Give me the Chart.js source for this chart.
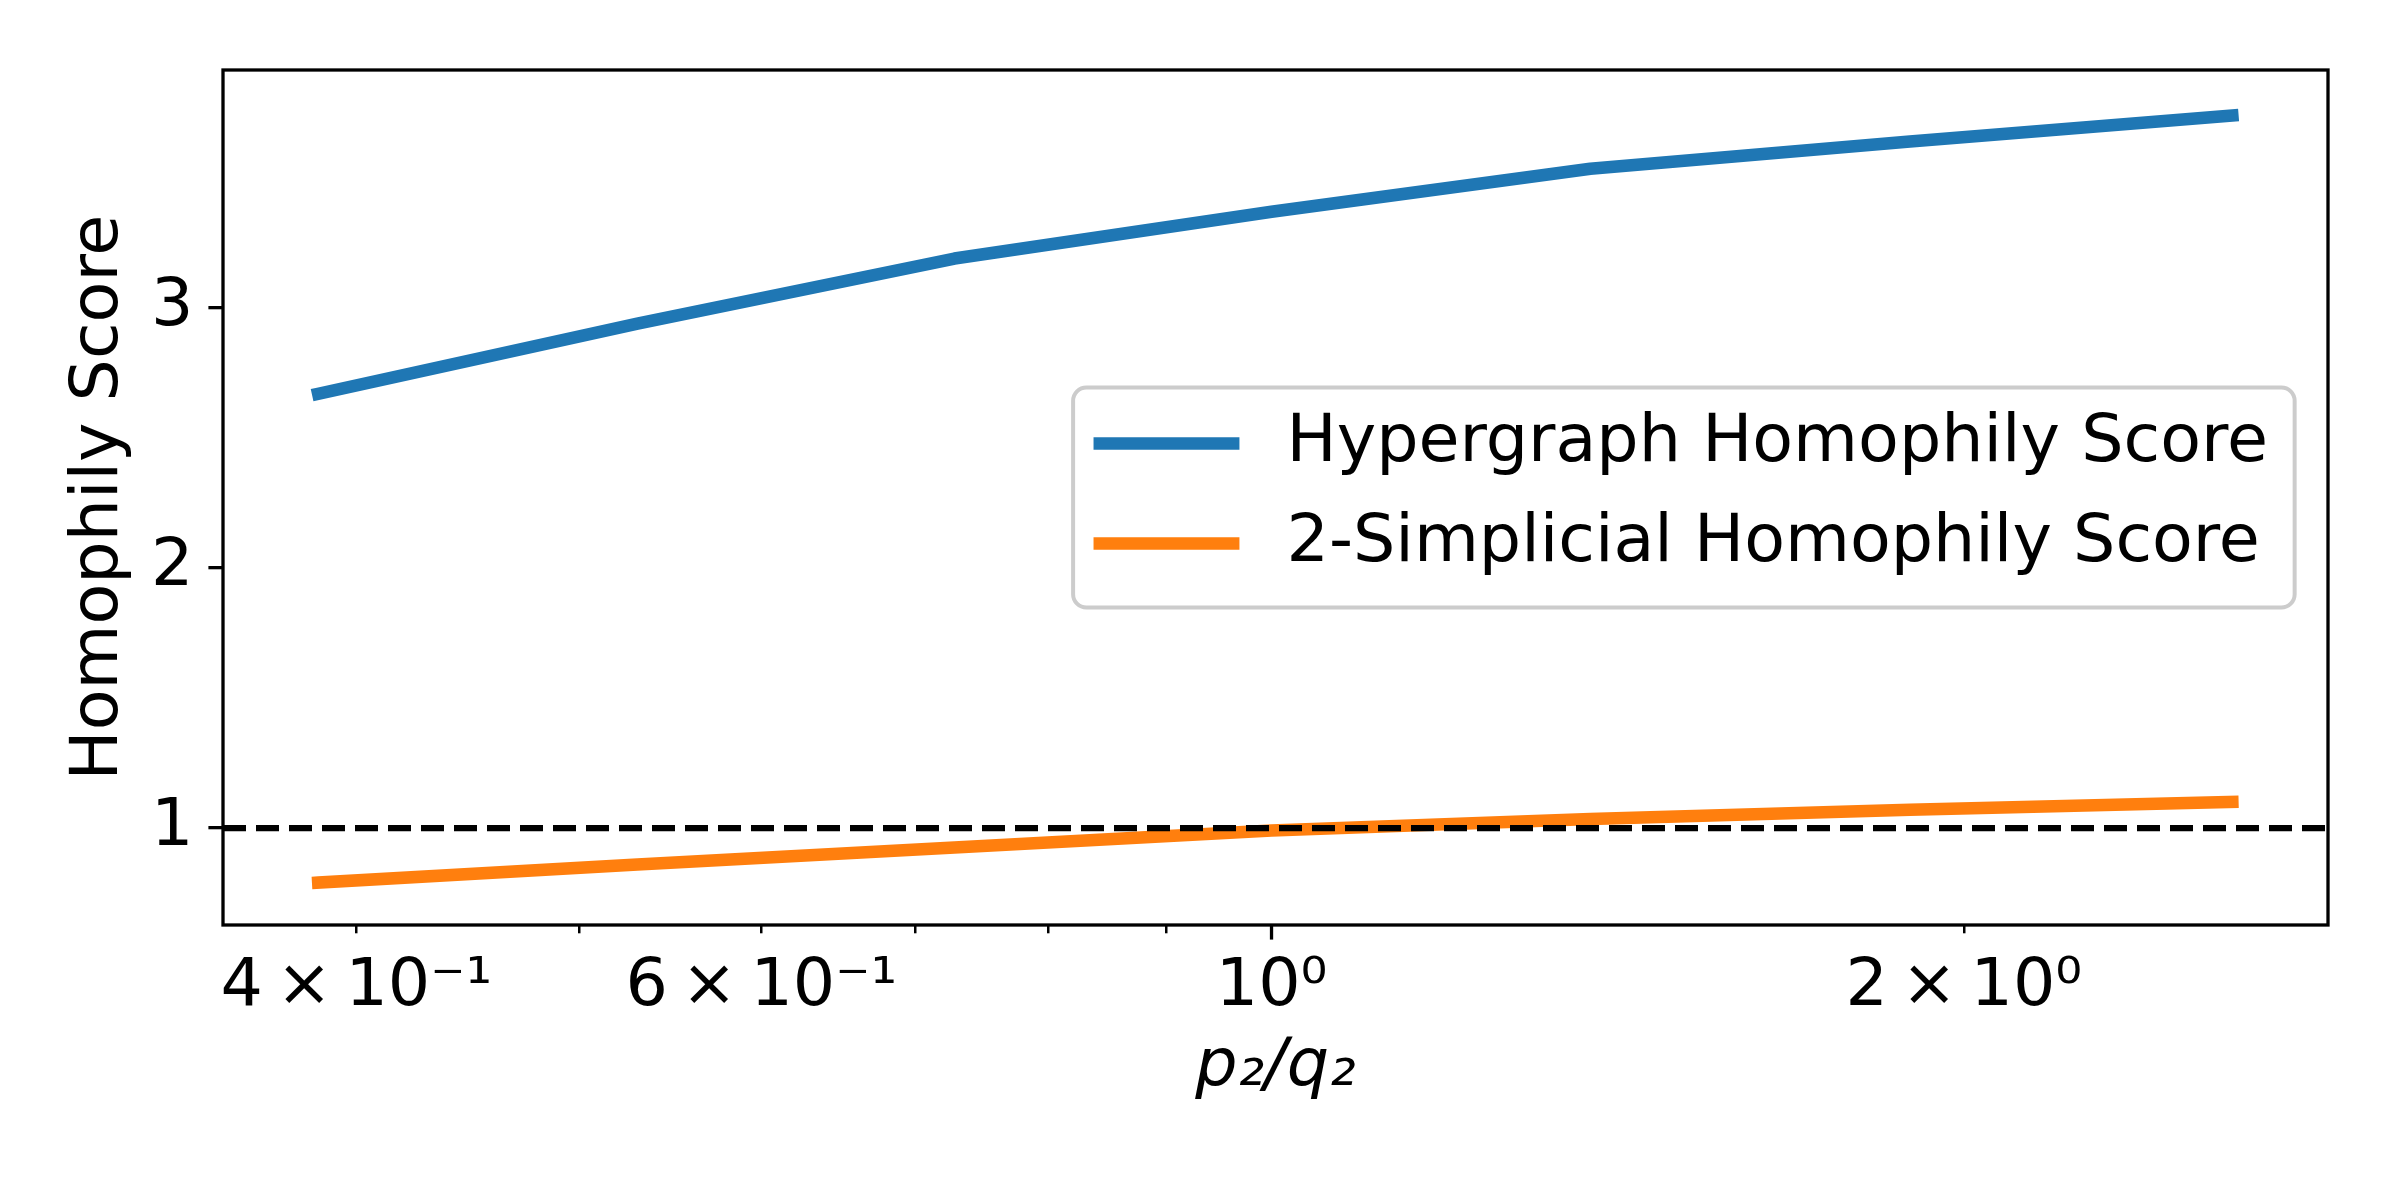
<!DOCTYPE html>
<html>
<head>
<meta charset="utf-8">
<script src="https://cdn.jsdelivr.net/npm/chart.js@4.4.0/dist/chart.umd.min.js"></script>
<style>
  html, body { margin: 0; padding: 0; background: #ffffff; }
  #graph1 { display: block; }
</style>
</head>
<body>
<canvas id="graph1" width="2400" height="1200"></canvas>
<script>
// values
const ratios = [0.385, 0.53, 0.728, 1.0, 1.376, 1.895, 2.617];
const hyperScore = [2.67, 2.94, 3.19, 3.37, 3.535, 3.64, 3.74];
const simplicialScore = [0.79, 0.86, 0.925, 0.99, 1.035, 1.07, 1.10];
const seriesLabels = ["Hypergraph Homophily Score", "2-Simplicial Homophily Score"];
const xTickValues = [0.4, 0.5, 0.6, 0.7, 0.8, 0.9, 1, 2];
const xTickLabels = ["4\u2009×\u200910⁻¹", "", "6\u2009×\u200910⁻¹", "", "", "", "10⁰", "2\u2009×\u200910⁰"];
const yTickValues = [1, 2, 3];
const baseline = 1;

const FONT = "DejaVu Sans";
const FS = 66.7;

function points(ys) {
  return ratios.map(function(x, i) { return {x: x, y: ys[i]}; });
}

// dashed line at 1, box round the plot, the longer major tick at 10^0
const framePlugin = {
  id: "frame",
  afterDatasetsDraw(chart) {
    const ctx = chart.ctx;
    const a = chart.chartArea;
    const y = chart.scales.y.getPixelForValue(baseline);
    ctx.save();
    ctx.beginPath();
    ctx.rect(a.left, a.top, a.right - a.left, a.bottom - a.top);
    ctx.clip();
    ctx.strokeStyle = "#000000";
    ctx.lineWidth = 6.25;
    ctx.setLineDash([23, 10]);
    ctx.beginPath();
    ctx.moveTo(a.left, y);
    ctx.lineTo(a.right, y);
    ctx.stroke();
    ctx.restore();

    ctx.save();
    ctx.strokeStyle = "#000000";
    ctx.lineWidth = 3.3;
    ctx.strokeRect(a.left, a.top, a.right - a.left, a.bottom - a.top);
    const x1 = chart.scales.x.getPixelForValue(1);
    ctx.beginPath();
    ctx.moveTo(x1, a.bottom);
    ctx.lineTo(x1, a.bottom + 14.6);
    ctx.stroke();
    ctx.restore();
  },
  afterDraw(chart) {
    // legend, matplotlib style, loc = center right
    const ctx = chart.ctx;
    const a = chart.chartArea;
    const ds = chart.data.datasets.filter(function(d) { return d.label; });
    ctx.save();
    ctx.font = FS + "px '" + FONT + "'";
    let tw = 0;
    ds.forEach(function(d) { tw = Math.max(tw, ctx.measureText(d.label).width); });
    const pad = 0.4 * FS, handle = 2 * FS, hpad = 0.8 * FS, rowH = FS, gap = 0.5 * FS;
    const w = pad + handle + hpad + tw + pad;
    const h = pad * 2 + rowH * ds.length + gap * (ds.length - 1);
    const right = a.right - 0.5 * FS;
    const left = right - w;
    const top = (a.top + a.bottom) / 2 - h / 2;
    ctx.beginPath();
    ctx.roundRect(left, top, w, h, 0.2 * FS);
    ctx.fillStyle = "rgba(255,255,255,0.8)";
    ctx.fill();
    ctx.strokeStyle = "#cccccc";
    ctx.lineWidth = 4;
    ctx.stroke();
    ds.forEach(function(d, i) {
      const cy = top + pad + rowH / 2 - 4 + i * (rowH + gap);
      ctx.strokeStyle = d.borderColor;
      ctx.lineWidth = d.borderWidth;
      ctx.lineCap = "square";
      ctx.beginPath();
      ctx.moveTo(left + pad, cy);
      ctx.lineTo(left + pad + handle, cy);
      ctx.stroke();
      ctx.fillStyle = "#000000";
      ctx.textBaseline = "middle";
      ctx.textAlign = "left";
      ctx.fillText(d.label, left + pad + handle + hpad, cy);
    });
    ctx.restore();
  }
};

const ctx = document.getElementById("graph1");

new Chart(ctx, {
  type: "line",
  data: {
    datasets: [{
      label: seriesLabels[0],
      data: points(hyperScore),
      borderColor: "#1f77b4",
      backgroundColor: "#1f77b4",
      borderWidth: 12.5,
      borderCapStyle: "square",
      borderJoinStyle: "round",
      pointRadius: 0,
      tension: 0
    }, {
      label: seriesLabels[1],
      data: points(simplicialScore),
      borderColor: "#ff7f0e",
      backgroundColor: "#ff7f0e",
      borderWidth: 12.5,
      borderCapStyle: "square",
      borderJoinStyle: "round",
      pointRadius: 0,
      tension: 0
    }]
  },
  options: {
    responsive: false,
    animation: false,
    devicePixelRatio: 1,
    layout: {
      padding: { top: 70, right: 72, left: 0, bottom: 0 }
    },
    plugins: {
      legend: { display: false },
      title: { display: false },
      tooltip: { enabled: false }
    },
    scales: {
      x: {
        type: "logarithmic",
        min: 0.35,
        max: 2.88,
        border: { display: false },
        grid: {
          drawOnChartArea: false,
          drawTicks: true,
          tickLength: 8.3,
          lineWidth: 2.5,
          color: "#000000"
        },
        afterBuildTicks: function(scale) {
          scale.ticks = xTickValues.map(function(v) { return {value: v}; });
        },
        afterFit: function(scale) { scale.height = 275; },
        ticks: {
          autoSkip: false,
          maxRotation: 0,
          color: "#000000",
          padding: 14,
          font: { family: FONT, size: FS },
          callback: function(value) {
            const i = xTickValues.indexOf(value);
            return i >= 0 ? xTickLabels[i] : "";
          }
        },
        title: {
          display: true,
          text: "p₂/q₂",
          color: "#000000",
          padding: { top: 92, bottom: 92 },
          font: { family: FONT, size: FS, style: "italic" }
        }
      },
      y: {
        type: "linear",
        min: 0.627,
        max: 3.915,
        border: { display: false },
        grid: {
          drawOnChartArea: false,
          drawTicks: true,
          tickLength: 14.6,
          lineWidth: 3.3,
          color: "#000000"
        },
        afterBuildTicks: function(scale) {
          scale.ticks = yTickValues.map(function(v) { return {value: v}; });
        },
        afterFit: function(scale) { scale.width = 223; },
        ticks: {
          color: "#000000",
          padding: 15,
          font: { family: FONT, size: FS },
          callback: function(value) { return String(value); }
        },
        title: {
          display: true,
          text: "Homophily Score",
          color: "#000000",
          padding: { top: 60, bottom: 60 },
          font: { family: FONT, size: FS }
        }
      }
    }
  },
  plugins: [framePlugin]
});
</script>
</body>
</html>
